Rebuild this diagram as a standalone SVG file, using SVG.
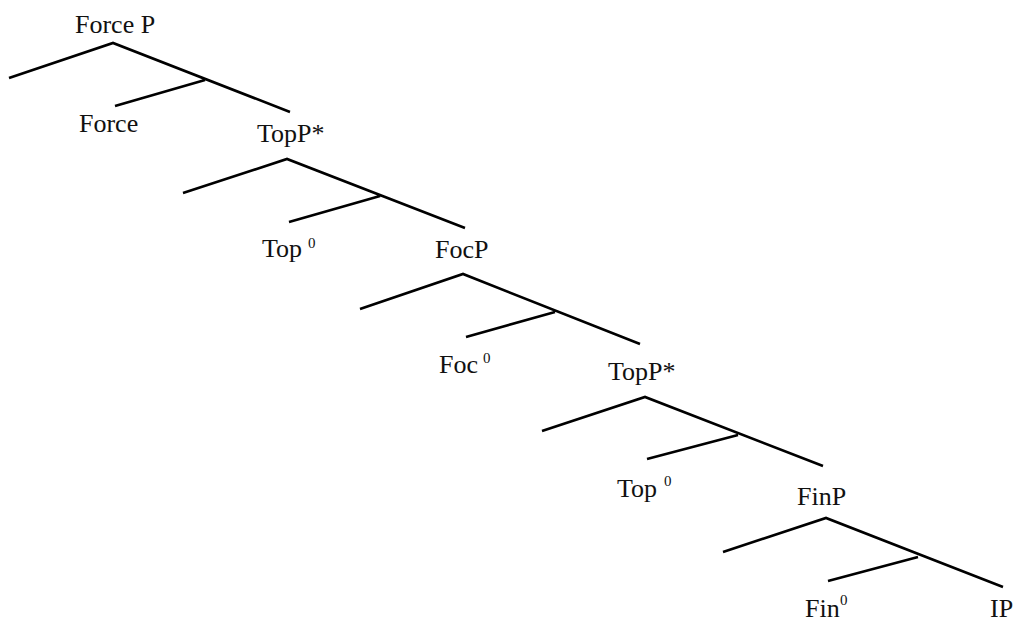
<svg xmlns="http://www.w3.org/2000/svg" width="1013" height="625" viewBox="0 0 1013 625">
<style>
.lbl{font-family:"Liberation Serif","Times New Roman",serif;font-size:26px;fill:#111}
.sup{font-size:15px}
.edge{stroke:#000;stroke-width:2.6;fill:none;stroke-linecap:butt;stroke-linejoin:miter}
</style>
<rect width="1013" height="625" fill="#fff"/>
<g id="connectors">
<path class="edge" d="M9,78 L113,43 L290,112 M115,106 L205,80"/>
<path class="edge" d="M183,193 L287,159 L465,228 M289,222 L380,196"/>
<path class="edge" d="M360,309 L463,274 L640,344 M466,337 L555,312"/>
<path class="edge" d="M542,431 L645,397 L823,466 M647,459 L738,435"/>
<path class="edge" d="M723,552 L826,518 L1003,587 M828,581 L918,557"/>
</g>
<g id="n-forceP"><text class="lbl" x="75" y="33">Force P</text></g>
<g id="n-force"><text class="lbl" x="79" y="132">Force</text></g>
<g id="n-topP1"><text class="lbl" x="257" y="142">TopP*</text></g>
<g id="n-top1"><text class="lbl" x="262" y="257">Top<tspan class="sup" x="308" y="248">0</tspan></text></g>
<g id="n-focP"><text class="lbl" x="435" y="258">FocP</text></g>
<g id="n-foc"><text class="lbl" x="439" y="373">Foc<tspan class="sup" x="483" y="363">0</tspan></text></g>
<g id="n-topP2"><text class="lbl" x="608" y="380">TopP*</text></g>
<g id="n-top2"><text class="lbl" x="617" y="497">Top<tspan class="sup" x="664" y="486">0</tspan></text></g>
<g id="n-finP"><text class="lbl" x="797" y="505">FinP</text></g>
<g id="n-fin"><text class="lbl" x="805" y="617">Fin<tspan class="sup" x="840" y="605">0</tspan></text></g>
<g id="n-ip"><text class="lbl" x="990" y="617">IP</text></g>
</svg>
